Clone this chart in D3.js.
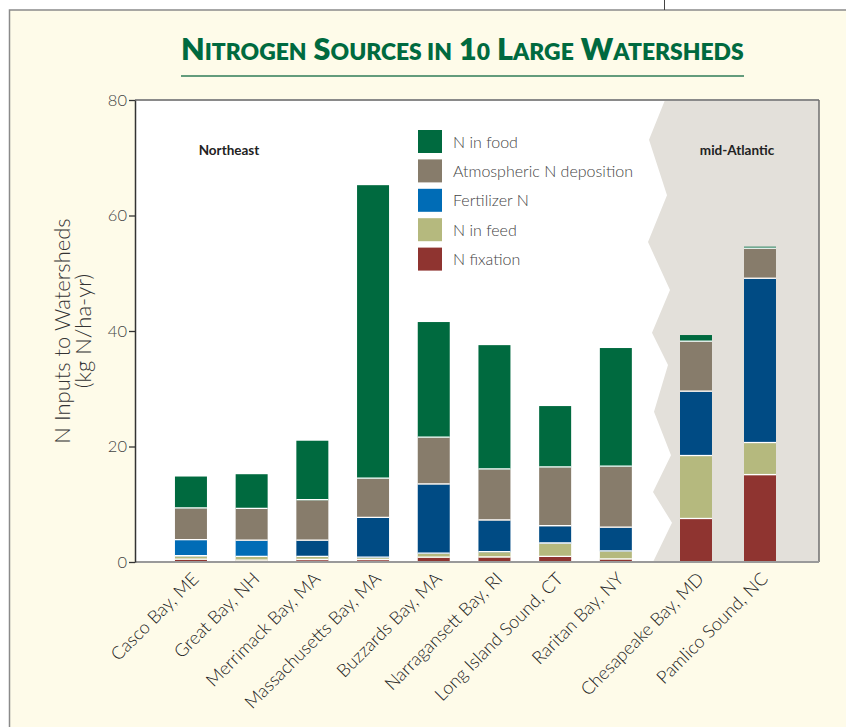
<!DOCTYPE html>
<html>
<head>
<meta charset="utf-8">
<script src="https://cdn.jsdelivr.net/npm/d3@7"></script>
<style>
  html, body { margin: 0; padding: 0; background: #ffffff; }
  svg { display: block; }
</style>
</head>
<body>
<svg id="chart" width="846" height="727"></svg>
<script>
// ---------------- DATA ----------------
const categories = ["Casco Bay, ME", "Great Bay, NH", "Merrimack Bay, MA", "Massachusetts Bay, MA",
  "Buzzards Bay, MA", "Narragansett Bay, RI", "Long Island Sound, CT", "Raritan Bay, NY",
  "Chesapeake Bay, MD", "Pamlico Sound, NC"];
const regions = ["Northeast", "Northeast", "Northeast", "Northeast", "Northeast", "Northeast",
  "Northeast", "Northeast", "mid-Atlantic", "mid-Atlantic"];
const nFixation   = [0.4, 0.25, 0.35, 0.35, 0.75, 0.8, 0.9, 0.45, 7.45, 15.05];
const nInFeed     = [0.6, 0.65, 0.55, 0.4, 0.7, 0.9, 2.3, 1.4, 10.9, 5.55];
const fertilizerN = [2.8, 2.8, 2.8, 6.9, 12.0, 5.5, 3.0, 4.1, 11.15, 28.45];
const atmosphericN = [5.5, 5.5, 7.0, 6.8, 8.1, 8.85, 10.2, 10.55, 8.65, 5.2];
const nInFood     = [5.5, 6.0, 10.3, 50.8, 20.0, 21.5, 10.6, 20.55, 1.15, 0.35];
const yTicks = [0, 20, 40, 60, 80];
const seriesNames = ["N fixation", "N in feed", "Fertilizer N", "Atmospheric N deposition", "N in food"];
const legendOrder = ["N in food", "Atmospheric N deposition", "Fertilizer N", "N in feed", "N fixation"];

// ---------------- STYLE ----------------
const colors = {
  "N fixation": "#8f3430",
  "N in feed": "#b5b97e",
  "Fertilizer N": "#004b84",
  "Atmospheric N deposition": "#877c6b",
  "N in food": "#006a3f"
};
const lightFertilizerColor = "#006cb6";
const lightFertilizerSites = new Set(["Casco Bay, ME", "Great Bay, NH"]);
const lightFont = "Lato, 'Open Sans', sans-serif";

const svg = d3.select("#chart");
const W = 846, H = 727;
const plot = { left: 135, right: 819, top: 100, bottom: 562 };

// page background & frame
svg.append("rect").attr("x", 0).attr("y", 0).attr("width", W).attr("height", H).attr("fill", "#ffffff");
svg.append("rect").attr("x", 9.5).attr("y", 10).attr("width", W).attr("height", H)
  .attr("fill", "#fefbe9").attr("stroke", "#8a8a8a").attr("stroke-width", 1.5);
svg.append("line").attr("x1", 664.5).attr("x2", 664.5).attr("y1", 0).attr("y2", 10)
  .attr("stroke", "#444").attr("stroke-width", 1);

// scales
const y = d3.scaleLinear().domain([0, 80]).range([plot.bottom, plot.top]);
const northeast = categories.filter((c, i) => regions[i] === "Northeast");
const midAtlantic = categories.filter((c, i) => regions[i] === "mid-Atlantic");
const xNE = d3.scaleBand().domain(northeast).range([160.6, 646.2]).paddingInner(0.473).paddingOuter(0.2365);
const xMA = d3.scaleBand().domain(midAtlantic).range([664, 792]).paddingInner(0.5).paddingOuter(0.25);
const xPos = c => (xNE.domain().includes(c) ? xNE(c) : xMA(c));
const bw = xNE.bandwidth();

// plot area
svg.append("rect").attr("x", plot.left).attr("y", plot.top)
  .attr("width", plot.right - plot.left).attr("height", plot.bottom - plot.top).attr("fill", "#ffffff");

// mid-Atlantic shaded zone with zigzag edge (edge given in data units on y)
const zig = [[665, 80], [649, 73.1], [667, 63.5], [648, 55.4], [670, 47.1], [652, 39.7],
  [668, 34.1], [654, 26.0], [671, 18.5], [653, 12.1], [672, 6.8], [653, 0]];
const zonePts = zig.map(p => [p[0], y(p[1])]).concat([[plot.right, y(0)], [plot.right, y(80)]]);
svg.append("path").attr("d", d3.line()(zonePts) + "Z").attr("fill", "#e3e0da");

// stacked data
const table = categories.map((c, i) => ({
  category: c,
  "N fixation": nFixation[i],
  "N in feed": nInFeed[i],
  "Fertilizer N": fertilizerN[i],
  "Atmospheric N deposition": atmosphericN[i],
  "N in food": nInFood[i]
}));
const stacked = d3.stack().keys(seriesNames)(table);

const gBars = svg.append("g");
stacked.forEach(layer => {
  gBars.selectAll(null).data(layer).enter().append("rect")
    .attr("x", d => xPos(d.data.category))
    .attr("width", bw)
    .attr("y", d => y(d[1]))
    .attr("height", d => y(d[0]) - y(d[1]))
    .attr("fill", d => (layer.key === "Fertilizer N" && lightFertilizerSites.has(d.data.category))
      ? lightFertilizerColor : colors[layer.key]);
});
// white separators between segments
stacked.slice(1).forEach(layer => {
  gBars.selectAll(null).data(layer).enter().append("line")
    .attr("x1", d => xPos(d.data.category))
    .attr("x2", d => xPos(d.data.category) + bw)
    .attr("y1", d => y(d[0]) - 0.5)
    .attr("y2", d => y(d[0]) - 0.5)
    .attr("stroke", "#ffffff").attr("stroke-width", 1.3);
});

// frame lines
svg.append("line").attr("x1", plot.left).attr("x2", plot.right).attr("y1", plot.top).attr("y2", plot.top)
  .attr("stroke", "#8a8a8a").attr("stroke-width", 2);
svg.append("line").attr("x1", plot.right).attr("x2", plot.right).attr("y1", plot.top).attr("y2", plot.bottom)
  .attr("stroke", "#6f6f6f").attr("stroke-width", 1.5);
svg.append("line").attr("x1", plot.left).attr("x2", plot.right).attr("y1", plot.bottom).attr("y2", plot.bottom)
  .attr("stroke", "#9a9a9a").attr("stroke-width", 2);

// y axis
const yAxis = d3.axisLeft(y).tickValues(yTicks).tickSize(6).tickPadding(2).tickSizeOuter(0);
const gy = svg.append("g").attr("transform", `translate(${plot.left},0)`).call(yAxis);
gy.select(".domain").attr("stroke", "#333").attr("stroke-width", 1.5);
gy.selectAll(".tick line").attr("stroke", "#333").attr("stroke-width", 1.3);
gy.selectAll(".tick text").attr("font-family", lightFont).attr("font-weight", 300)
  .attr("font-size", 16.5).attr("fill", "#444");

// y axis title
const yt = svg.append("text").attr("transform", "translate(70,331) rotate(-90)")
  .attr("text-anchor", "middle").attr("font-family", lightFont).attr("font-weight", 300)
  .attr("font-size", 22).attr("fill", "#333");
yt.append("tspan").attr("x", 0).attr("dy", 0).text("N Inputs to Watersheds");
yt.append("tspan").attr("x", 0).attr("dy", 21).text("(kg N/ha-yr)");

// x labels
svg.append("g").selectAll("text").data(categories).enter().append("text")
  .attr("transform", c => `translate(${xPos(c) + bw / 2 + 9},580) rotate(-45)`)
  .attr("text-anchor", "end").attr("font-family", lightFont).attr("font-weight", 300)
  .attr("font-size", 18).attr("fill", "#222").text(c => c);

// region labels
svg.append("text").attr("x", 229).attr("y", 155).attr("text-anchor", "middle")
  .attr("font-family", "Lato, sans-serif").attr("font-weight", 700).attr("font-size", 13.5)
  .attr("fill", "#222").text("Northeast");
svg.append("text").attr("x", 737).attr("y", 155).attr("text-anchor", "middle")
  .attr("font-family", "Lato, sans-serif").attr("font-weight", 700).attr("font-size", 13.5)
  .attr("fill", "#222").text("mid-Atlantic");

// legend
const lg = svg.append("g").attr("transform", "translate(418,130)");
legendOrder.forEach((name, i) => {
  const g = lg.append("g").attr("transform", `translate(0,${i * 29.4})`);
  g.append("rect").attr("width", 24).attr("height", 23).attr("fill", name === "Fertilizer N" ? lightFertilizerColor : colors[name]);
  g.append("text").attr("x", 35).attr("y", 17.5).attr("font-family", lightFont).attr("font-weight", 300)
    .attr("font-size", 16).attr("fill", "#444").text(name);
});

// title (small caps built from tspans)
const titleWords = ["Nitrogen", "Sources", "in", "10", "Large", "Watersheds"];
const title = svg.append("text").attr("x", 181).attr("y", 60)
  .attr("font-family", "Lato, sans-serif").attr("font-weight", 800).attr("fill", "#006a3f");
titleWords.forEach((w, i) => {
  const big = (w === "in") ? "" : w[0].toUpperCase();
  const rest = (w === "in") ? w.toUpperCase() : w.slice(1).toUpperCase();
  if (big) title.append("tspan").attr("class", "big").attr("font-size", 24).text((i ? " " : "") + big);
  title.append("tspan").attr("class", "small").attr("font-size", 18)
    .text(((i && !big) ? " " : "") + rest);
});
// fit title width to 563px
const tw = title.node().getComputedTextLength();
const k = 563 / tw;
title.selectAll("tspan.big").attr("font-size", 24 * k);
title.selectAll("tspan.small").attr("font-size", 18 * k);
svg.append("line").attr("x1", 181).attr("x2", 744).attr("y1", 76).attr("y2", 76)
  .attr("stroke", "#2f7d57").attr("stroke-width", 1.5);
</script>
</body>
</html>
